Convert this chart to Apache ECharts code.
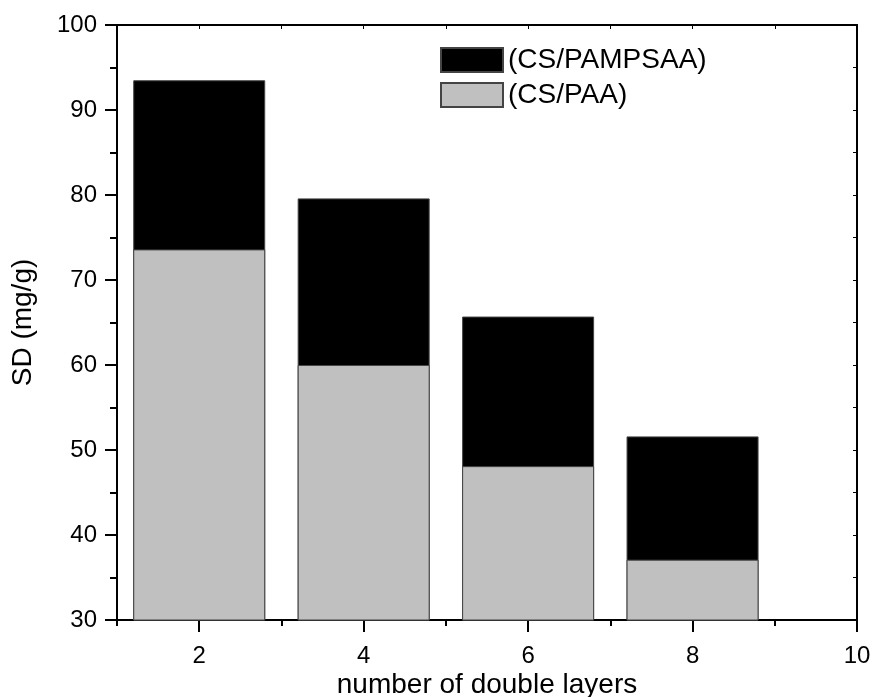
<!DOCTYPE html>
<html>
<head>
<meta charset="utf-8">
<script src="https://cdn.jsdelivr.net/npm/echarts@6/dist/echarts.min.js"></script>
<style>
  html, body { margin: 0; padding: 0; background: #fff; }
  #main { width: 873px; height: 697px; }
</style>
</head>
<body>
<div id="main"></div>
<script>
// 数据
var layers = [2, 4, 6, 8];
var sdPampsaa = [93.5, 79.6, 65.7, 51.6];
var sdPaa = [73.6, 60.0, 48.1, 37.1];
var xMajorTicks = [2, 4, 6, 8, 10];

var chart = echarts.init(document.getElementById('main'));
var font = 'Liberation Sans, Arial, sans-serif';
var axisLine = {show: true, lineStyle: {color: '#000', width: 2}};

function pairs(ys) {
  return layers.map(function (x, i) { return [x, ys[i]]; });
}

var option = {
  animation: false,
  backgroundColor: '#fff',
  textStyle: {fontFamily: font, color: '#000'},
  grid: {left: 117, right: 16, top: 25, bottom: 77, containLabel: false, outerBoundsMode: 'none'},
  legend: {
    left: 435, top: 41, orient: 'vertical', icon: 'rect',
    itemWidth: 62, itemHeight: 24, itemGap: 7,
    textStyle: {fontFamily: font, fontSize: 28, color: '#000'},
    data: ['(CS/PAMPSAA)', '(CS/PAA)']
  },
  xAxis: [
    { // minor ticks + line
      type: 'value', min: 1, max: 10, interval: 1, position: 'bottom',
      axisLine: axisLine,
      axisTick: {show: true, length: 6, lineStyle: {color: '#000', width: 2}},
      axisLabel: {show: false}, splitLine: {show: false},
      name: 'number of double layers', nameLocation: 'middle', nameGap: 51,
      nameTextStyle: {fontFamily: font, fontSize: 28, color: '#000'}
    },
    { // major ticks + labels
      type: 'value', min: 1, max: 10, interval: 1, position: 'bottom',
      axisLine: {show: false},
      axisTick: {show: true, length: 12, customValues: xMajorTicks, lineStyle: {color: '#000', width: 2}},
      axisLabel: {show: true, customValues: xMajorTicks, margin: 24,
        fontFamily: font, fontSize: 24, color: '#000'},
      splitLine: {show: false}
    },
    { // top frame
      type: 'value', min: 1, max: 10, interval: 1, position: 'top',
      axisLine: axisLine,
      axisTick: {show: true, inside: true, length: 4, lineStyle: {color: '#000', width: 1}},
      axisLabel: {show: false}, splitLine: {show: false}
    }
  ],
  yAxis: [
    {
      type: 'value', min: 30, max: 100, interval: 10, position: 'left',
      axisLine: axisLine,
      axisTick: {show: true, length: 12, lineStyle: {color: '#000', width: 2}},
      minorTick: {show: true, splitNumber: 2, length: 7, lineStyle: {color: '#000', width: 2}},
      axisLabel: {margin: 20, fontFamily: font, fontSize: 24, color: '#000'},
      splitLine: {show: false},
      name: 'SD (mg/g)', nameLocation: 'middle', nameGap: 80,
      nameTextStyle: {fontFamily: font, fontSize: 28, color: '#000'}
    },
    { // right frame
      type: 'value', min: 30, max: 100, interval: 5, position: 'right',
      axisLine: axisLine,
      axisTick: {show: true, inside: true, length: 4, lineStyle: {color: '#000', width: 1}},
      axisLabel: {show: false}, splitLine: {show: false}
    }
  ],
  series: [
    {
      name: '(CS/PAMPSAA)', type: 'bar', xAxisIndex: 0, yAxisIndex: 0,
      barWidth: 132, barGap: '-100%',
      itemStyle: {color: '#000', borderColor: '#444', borderWidth: 1},
      data: pairs(sdPampsaa)
    },
    {
      name: '(CS/PAA)', type: 'bar', xAxisIndex: 0, yAxisIndex: 0,
      barWidth: 132, barGap: '-100%',
      itemStyle: {color: '#c0c0c0', borderColor: '#444', borderWidth: 1},
      data: pairs(sdPaa)
    }
  ]
};

chart.setOption(option);
</script>
</body>
</html>
